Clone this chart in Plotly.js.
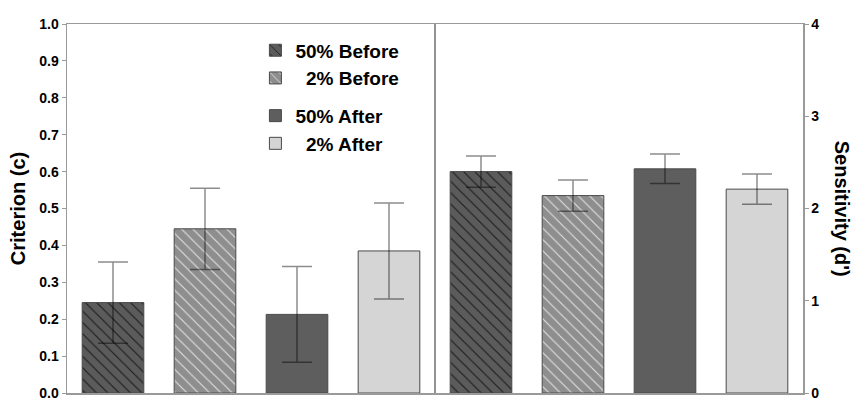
<!DOCTYPE html>
<html><head><meta charset="utf-8">
<script src="https://cdn.plot.ly/plotly-3.0.1.min.js"></script>
<style>html,body{margin:0;padding:0;background:#fff}#chart{width:860px;height:414px}</style>
</head><body><div id="chart"></div>
<script>
// ---- data ----
const categories = ['50% Before', '2% Before', '50% After', '2% After'];
const legendLabels = ['50% Before', '\u00a0\u00a02% Before', '50% After', '\u00a0\u00a02% After'];
const criterion = [0.245, 0.445, 0.213, 0.385];
const criterionErr = [0.11, 0.11, 0.13, 0.13];
const sensitivity = [2.40, 2.14, 2.43, 2.21];
const sensitivityErr = [0.17, 0.17, 0.16, 0.165];
const criterionTicks = [0, 0.1, 0.2, 0.3, 0.4, 0.5, 0.6, 0.7, 0.8, 0.9, 1.0];
const sensitivityTicks = [0, 1, 2, 3, 4];

// ---- styles ----
const fills = ['#5b5b5b', '#8e8e8e', '#5e5e5e', '#d5d5d5'];
const hatch = ['\\', '\\', '', ''];
const hatchColor = ['#1c1c1c', '#e0e0e0', '#000', '#000'];
const groups = ['before', 'before', 'after', 'after'];
const FONT = 'Arial, "Liberation Sans", Helvetica, sans-serif';
const errStyle = { color: 'rgba(0,0,0,0.45)', thickness: 1.5, width: 15 };

function makeMarker(i) {
  const marker = { color: fills[i], line: { color: '#4a4a4a', width: 1 } };
  if (hatch[i]) {
    marker.pattern = { shape: hatch[i], fgcolor: hatchColor[i], bgcolor: fills[i], size: 8, solidity: 0.14 };
  }
  return marker;
}

const traces = [];
categories.forEach((c, i) => {
  traces.push({
    type: 'bar', name: legendLabels[i], legendgroup: groups[i],
    x: [i], y: [criterion[i]], width: 0.67,
    marker: makeMarker(i),
    error_y: Object.assign({ type: 'data', array: [criterionErr[i]], visible: true }, errStyle),
    xaxis: 'x', yaxis: 'y', hoverinfo: 'y'
  });
});
categories.forEach((c, i) => {
  traces.push({
    type: 'bar', name: legendLabels[i], showlegend: false,
    x: [i + categories.length], y: [sensitivity[i]], width: 0.67,
    marker: makeMarker(i),
    error_y: Object.assign({ type: 'data', array: [sensitivityErr[i]], visible: true }, errStyle),
    xaxis: 'x', yaxis: 'y2', hoverinfo: 'y'
  });
});

const layout = {
  width: 860, height: 414,
  margin: { l: 67, r: 57, t: 24, b: 21, pad: 0 },
  paper_bgcolor: '#fff', plot_bgcolor: '#fff',
  barmode: 'overlay',
  font: { family: FONT, color: '#000' },
  showlegend: true,
  legend: {
    x: 0.256, y: 0.98, xanchor: 'left', yanchor: 'top',
    bgcolor: 'rgba(0,0,0,0)', tracegroupgap: 10, traceorder: 'grouped',
    font: { family: FONT, size: 19, weight: 'bold', color: '#000' }
  },
  xaxis: {
    range: [-0.5, 7.5], showticklabels: false, ticks: '', showgrid: false, zeroline: false,
    showline: true, mirror: true, linecolor: '#9a9a9a', linewidth: 1.5, fixedrange: true
  },
  yaxis: {
    range: [0, 1], tickvals: criterionTicks, tickformat: '.1f',
    ticks: 'outside', ticklen: 4, tickcolor: '#9a9a9a', tickwidth: 1,
    showline: true, linecolor: '#9a9a9a', linewidth: 1.5, showgrid: false, zeroline: false,
    tickfont: { family: FONT, size: 14, weight: 'bold', color: '#000' },
    title: { text: 'Criterion (c)', standoff: 8, font: { family: FONT, size: 20, weight: 'bold', color: '#000' } },
    automargin: false
  },
  yaxis2: {
    range: [0, 4], tickvals: sensitivityTicks, overlaying: 'y', side: 'right',
    ticks: 'outside', ticklen: 4, tickcolor: '#9a9a9a', tickwidth: 1,
    showline: true, linecolor: '#9a9a9a', linewidth: 1.5, showgrid: false, zeroline: false,
    tickfont: { family: FONT, size: 14, weight: 'bold', color: '#000' },
    automargin: false
  },
  shapes: [{
    type: 'line', xref: 'x', yref: 'paper', x0: 3.5, x1: 3.5, y0: 0, y1: 1,
    line: { color: '#6f6f6f', width: 1.5 }
  }],
  annotations: [{
    text: "Sensitivity (d')", xref: 'paper', yref: 'paper', x: 1.054, y: 0.5,
    xanchor: 'center', yanchor: 'middle', textangle: 90, showarrow: false,
    font: { family: FONT, size: 20, weight: 'bold', color: '#000' }
  }]
};

Plotly.newPlot('chart', traces, layout, { displayModeBar: false, staticPlot: true });
</script>
</body></html>
